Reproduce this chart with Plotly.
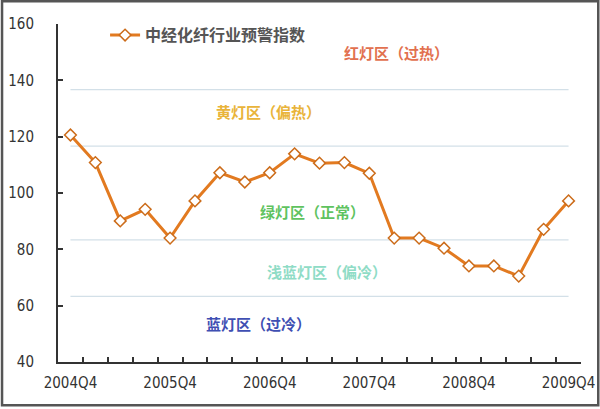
import plotly.graph_objects as go

quarters = ["2004Q4", "2005Q1", "2005Q2", "2005Q3", "2005Q4", "2006Q1", "2006Q2",
            "2006Q3", "2006Q4", "2007Q1", "2007Q2", "2007Q3", "2007Q4", "2008Q1",
            "2008Q2", "2008Q3", "2008Q4", "2009Q1", "2009Q2", "2009Q3", "2009Q4"]
index_values = [120.6, 110.8, 90.1, 94.2, 84.0, 97.2, 107.2, 103.9, 107.2, 113.9, 110.6,
                110.8, 107.0, 84.0, 84.0, 80.4, 74.1, 74.1, 70.5, 87.1, 97.2]
series_name = "中经化纤行业预警指数"
zone_bounds = [136.67, 116.67, 83.33, 63.33]
zone_labels = ["红灯区（过热）", "黄灯区（偏热）", "绿灯区（正常）", "浅蓝灯区（偏冷）", "蓝灯区（过冷）"]
zone_colors = ["#e2714f", "#e9b43a", "#5fc35f", "#8fdcc6", "#3f4fb3"]
zone_pos = [(13.1, 150.0), (7.95, 129.1), (9.7, 93.3), (10.3, 72.3), (7.55, 53.8)]
y_ticks = [40, 60, 80, 100, 120, 140, 160]
label_every = 4

x = list(range(len(quarters)))
tick_idx = x[::label_every]

fig = go.Figure()
fig.add_trace(go.Scatter(
    x=x, y=index_values, mode="lines+markers", name=series_name,
    line=dict(color="#e27a20", width=3),
    marker=dict(symbol="diamond", size=9, color="white",
                line=dict(color="#cc6c1a", width=1.5)),
))

for b in zone_bounds:
    fig.add_shape(type="line", xref="x", yref="y", x0=x[0], x1=x[-1], y0=b, y1=b,
                  line=dict(color="#d3e0e8", width=1.2), layer="below")

for txt, col, (px, py) in zip(zone_labels, zone_colors, zone_pos):
    fig.add_annotation(x=px, y=py, xref="x", yref="y", text=txt, showarrow=False,
                       font=dict(family="Noto Sans CJK SC", size=15, color=col, weight="bold"))

# image frame
fig.add_shape(type="rect", xref="paper", yref="paper",
              x0=-0.107, x1=1.033, y0=-0.128, y1=1.067, layer="above",
              line=dict(color="#555555", width=2.5))

tick_font = dict(family="Liberation Sans Narrow, DejaVu Sans Condensed, Arial", size=15, color="#333333")

fig.update_layout(
    width=600, height=409,
    margin=dict(l=57.5, r=19, t=24, b=47, autoexpand=False),
    paper_bgcolor="white", plot_bgcolor="white",
    showlegend=True,
    legend=dict(x=0.09, y=0.967, xanchor="left", yanchor="middle",
                bgcolor="rgba(0,0,0,0)", itemwidth=30,
                font=dict(family="Noto Sans CJK SC", size=16, color="#555555", weight="bold")),
    xaxis=dict(range=[-0.5, len(quarters) - 0.5], showgrid=False, zeroline=False,
               showline=True, linecolor="#333333", linewidth=2, automargin=False,
               tickmode="array", tickvals=tick_idx, ticktext=[quarters[i] for i in tick_idx],
               ticks="", tickfont=tick_font, ticklabelstandoff=6,
               minor=dict(tickmode="array", tickvals=[i + 0.5 for i in x[:-1]],
                          ticks="inside", ticklen=5, tickwidth=2, tickcolor="#333333",
                          showgrid=False)),
    yaxis=dict(range=[40, 160], showgrid=False, zeroline=False, automargin=False,
               showline=True, linecolor="#333333", linewidth=2,
               tickmode="array", tickvals=y_ticks,
               ticks="inside", ticklen=5, tickwidth=2, tickcolor="#333333",
               tickfont=tick_font, ticklabelstandoff=19),
)

fig.write_html("out.html", config={"displayModeBar": False},
               post_script="document.body.style.margin='0';document.body.style.overflow='hidden';")
